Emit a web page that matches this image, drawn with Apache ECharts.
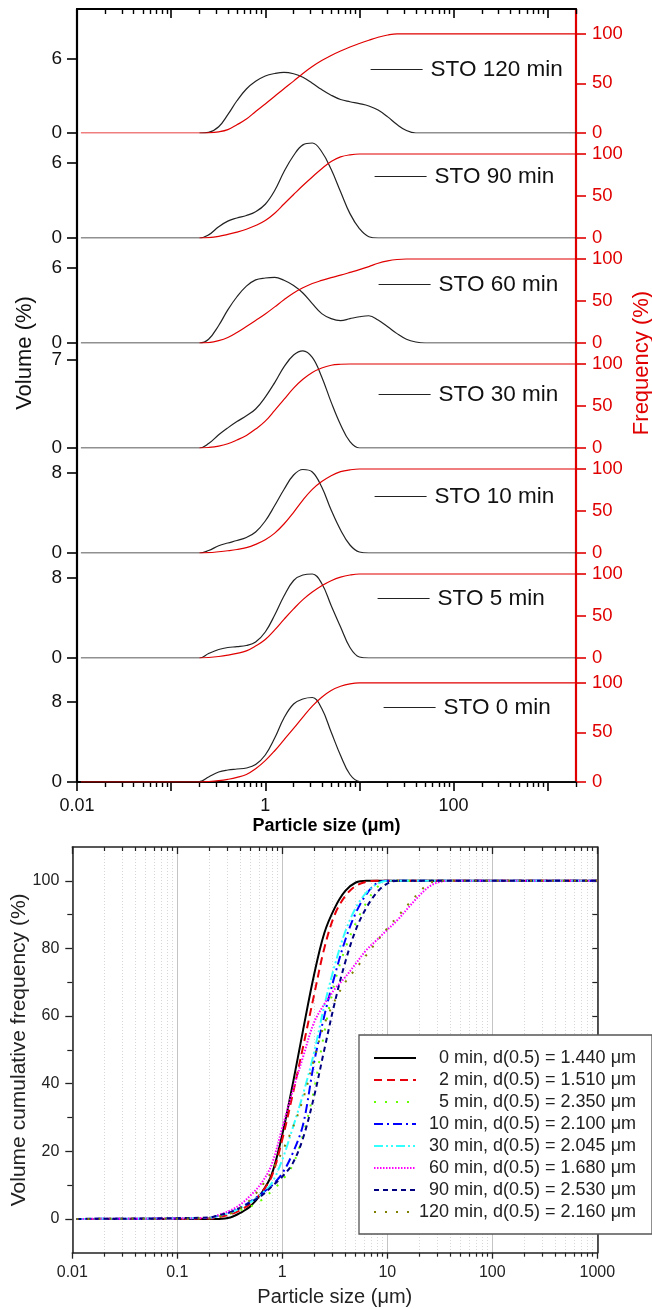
<!DOCTYPE html>
<html>
<head>
<meta charset="utf-8">
<script src="https://cdn.jsdelivr.net/npm/echarts@6/dist/echarts.min.js"></script>
<style>
  html, body { margin: 0; padding: 0; background: #fff; }
  #chart { width: 652px; height: 1309px; }
</style>
</head>
<body>
<div id="chart"></div>
<script>
// particle size distributions of STO, milled for various times
const FONT = "'Liberation Sans', Arial, sans-serif";
const RED = "#e00000";

// ---- top: volume (%) and frequency (%) per milling time ----
const panelNames = ["STO 120 min", "STO 90 min", "STO 60 min", "STO 30 min", "STO 10 min", "STO 5 min", "STO 0 min"];
const sizeTop = [0.011, 0.2, 0.25, 0.32, 0.4, 0.5, 0.63, 0.79, 1, 1.26, 1.58, 2, 2.51, 3.16, 3.98, 5.01, 6.31, 7.94, 10, 12.6, 15.8, 20, 25.1, 31.6, 39.8, 50.1, 2000];

const vol120 = [null, 0, 0.05, 0.5, 1.48, 2.6, 3.55, 4.17, 4.6, 4.8, 4.89, 4.78, 4.5, 4.02, 3.5, 3.05, 2.7, 2.52, 2.37, 2.18, 1.85, 1.3, 0.68, 0.2, 0, 0, 0];
const freq120 = [0, 0, 0.2, 1.2, 3.4, 8.3, 14, 21.7, 29.3, 37, 44.6, 52.3, 60, 67, 73, 78.2, 82.7, 86.7, 90.2, 93.5, 96.5, 98.8, 100, 100, 100, 100, 100];
const vol90 = [0, 0, 0.25, 0.9, 1.35, 1.6, 1.8, 2.1, 2.7, 3.8, 5.3, 6.6, 7.45, 7.6, 6.9, 5.5, 3.7, 1.95, 0.75, 0.1, 0, 0, 0, 0, 0, 0, 0];
const freq90 = [null, 0, 0.5, 2, 4.3, 7, 10.4, 14.8, 20.8, 29.5, 40.5, 51.8, 62.5, 72.7, 82.5, 91, 96.5, 99, 100, 100, 100, 100, 100, 100, 100, 100, 100];
const vol60 = [0, 0, 0.3, 1.4, 2.65, 3.7, 4.55, 5.05, 5.2, 5.25, 5.02, 4.6, 4.0, 3.15, 2.35, 1.95, 1.79, 1.95, 2.1, 2.18, 1.84, 1.3, 0.75, 0.3, 0.08, 0, 0];
const freq60 = [null, 0, 0.5, 2.8, 6.5, 12.5, 19.6, 26.8, 34.5, 43, 51.5, 59.5, 65.7, 70.8, 74.5, 77.8, 80.8, 84, 87.3, 91, 95, 97.8, 99.4, 100, 100, 100, 100];
const vol30 = [0, 0, 0.35, 1.05, 1.6, 2.1, 2.56, 3.1, 4.05, 5.2, 6.45, 7.4, 7.73, 7.2, 5.65, 3.65, 1.85, 0.5, 0, 0, 0, 0, 0, 0, 0, 0, 0];
const freq30 = [null, 0, 0.6, 2.2, 5, 9.5, 15, 22.5, 32, 44.8, 57.8, 71.3, 81.8, 90, 95.3, 98.5, 99.7, 100, 100, 100, 100, 100, 100, 100, 100, 100, 100];
const vol10 = [0, 0, 0.25, 0.72, 1.0, 1.25, 1.55, 2.1, 3.2, 4.75, 6.35, 7.8, 8.35, 8.1, 6.6, 4.3, 2.3, 0.8, 0.1, 0, 0, 0, 0, 0, 0, 0, 0];
const freq10 = [null, 0, 0.4, 1.5, 2.7, 4.2, 6.4, 10.3, 15.8, 23.7, 34.5, 48.5, 63, 75.8, 85, 92, 96.8, 99, 100, 100, 100, 100, 100, 100, 100, 100, 100];
const vol5 = [0, 0, 0.45, 0.85, 1.05, 1.13, 1.25, 1.6, 2.6, 4.3, 6.2, 7.75, 8.3, 8.4, 7.45, 5.25, 3.1, 1.05, 0.1, 0, 0, 0, 0, 0, 0, 0, 0];
const freq5 = [null, 0, 0.6, 1.8, 3.4, 5.5, 8.5, 14.3, 22, 33.5, 46, 58.5, 69.5, 78.5, 86, 92, 96.3, 98.8, 100, 100, 100, 100, 100, 100, 100, 100, 100];
const vol0 = [0, 0.05, 0.5, 1.0, 1.2, 1.3, 1.4, 1.75, 2.7, 4.4, 6.4, 7.8, 8.3, 8.45, 7.35, 5.0, 2.65, 0.75, 0.05, 0, 0, 0, 0, 0, 0, 0, 0];
const freq0 = [0, 0, 0.5, 1.4, 2.7, 4.6, 7.6, 13.3, 21.5, 31.5, 42.5, 54, 65.5, 76.5, 85.5, 92.3, 96.5, 99, 100, 100, 100, 100, 100, 100, 100, 100, 100];

const volumes = [vol120, vol90, vol60, vol30, vol10, vol5, vol0];
const freqs = [freq120, freq90, freq60, freq30, freq10, freq5, freq0];
const volTickTop = [6, 6, 6, 7, 8, 8, 8];
const freqTicks = [0, 50, 100];
const majorTicks = [0.01, 0.1, 1, 10, 100, 1000];
const topLabels = [0.01, 1, 100];
const minorMult = [2, 3, 4, 5, 6, 7, 8, 9];

// panel layout (px)
const panelTop = [9, 133, 238, 343, 448, 553, 658];
const panelBottom = [133, 238, 343, 448, 553, 658, 782];
const volMax = [10, 8.4, 8.4, 8.35, 10.5, 10.5, 12.4];
const legendPos = [[370, 70], [374, 177], [378, 285], [378, 395], [374, 497], [377, 599], [383, 708]];

// ---- bottom: cumulative volume ----
const sizeBottom = [0.011, 0.2, 0.25, 0.32, 0.4, 0.5, 0.63, 0.79, 1, 1.26, 1.58, 2, 2.51, 3.16, 3.98, 5.01, 6.31, 7.94, 10, 12.6, 15.8, 20, 25.1, 31.6, 39.8, 1000];
const cum0 = [0, 0, 0, 0.4, 1.8, 3.8, 7.5, 13, 25, 40, 56, 72, 84.5, 92, 97, 99.5, 100, 100, 100, 100, 100, 100, 100, 100, 100, 100];
const cum2 = [0, 0.1, 0.5, 1.3, 2.6, 4.6, 7.7, 12.5, 23.5, 37, 51, 66, 80, 90, 95.5, 98.5, 99.7, 100, 100, 100, 100, 100, 100, 100, 100, 100];
const cum5 = [0, 0.2, 0.8, 1.6, 2.6, 3.7, 5.5, 8.2, 11.5, 16, 25, 38, 55, 70, 80, 87.5, 93.5, 98, 100, 100, 100, 100, 100, 100, 100, 100];
const cum10 = [0, 0.3, 1.0, 2.0, 3.4, 5.2, 7.4, 9.8, 13.5, 19.5, 28, 46, 60, 72, 82.5, 90.5, 96, 99.3, 100, 100, 100, 100, 100, 100, 100, 100];
const cum30 = [0, 0.3, 0.9, 1.8, 3.3, 5, 7.3, 10.5, 17.5, 27, 37, 49, 63, 75, 85, 92, 96.5, 99, 100, 100, 100, 100, 100, 100, 100, 100];
const cum60 = [0, 0.3, 1.2, 2.5, 4.3, 7, 10.5, 16, 27, 38, 48, 58, 63.5, 68, 71.5, 75.5, 79.5, 82.5, 85.5, 88.5, 92, 95.5, 98.3, 99.7, 100, 100];
const cum90 = [0, 0.4, 1.1, 2.0, 3.3, 4.9, 6.8, 9.5, 12.5, 16.5, 24, 36, 50, 64, 76, 85.5, 92, 96.5, 99.2, 100, 100, 100, 100, 100, 100, 100];
const cum120 = [0, 0.2, 0.7, 1.6, 3.2, 5.8, 9.5, 14, 20, 27, 35.5, 47, 57.5, 64.5, 70, 74, 78, 82, 86, 89.5, 93, 96.5, 99.3, 100, 100, 100];

const cumSeries = [cum0, cum2, cum5, cum10, cum30, cum60, cum90, cum120];
const legendNames = [
  "0 min, d(0.5) = 1.440 μm",
  "2 min, d(0.5) = 1.510 μm",
  "5 min, d(0.5) = 2.350 μm",
  "10 min, d(0.5) = 2.100 μm",
  "30 min, d(0.5) = 2.045 μm",
  "60 min, d(0.5) = 1.680 μm",
  "90 min, d(0.5) = 2.530 μm",
  "120 min, d(0.5) = 2.160 μm"
];
const cumColors = ["#000000", "#e8000b", "#66ff00", "#0000ff", "#33ffff", "#ff00ff", "#000080", "#808000"];
const cumDash = ["solid", [8, 5], [2, 9], [9, 4, 2, 4], [9, 3, 2, 3, 2, 3], [1.5, 1.5], [5, 4], [2, 9]];
const yTicksBottom = [0, 20, 40, 60, 80, 100];
const yMinorBottom = [10, 30, 50, 70, 90];
const yRightBottom = [0, 10, 20, 30, 40, 50, 60, 70, 80, 90, 100];

function minorList(hi) {
  const out = [];
  for (let e = -2; e <= 3; e++) {
    minorMult.forEach(function (m) {
      const v = +(m * Math.pow(10, e)).toPrecision(6);
      if (v <= hi) out.push(v);
    });
  }
  return out;
}

function plainNum(v) { return String(+v.toPrecision(6)); }

function hiddenLog(gridIndex, max, position) {
  return {
    type: "log", logBase: 10, gridIndex: gridIndex, min: 0.01, max: max,
    position: position || "bottom",
    axisLine: { show: false, onZero: false },
    axisTick: { show: false },
    axisLabel: { show: false },
    splitLine: { show: false },
    minorTick: { show: false }
  };
}

const grid = [];
panelTop.forEach(function (t, i) {
  grid.push({ left: 77, width: 499, top: t, height: panelBottom[i] - t, outerBoundsMode: "none" });
});
grid.push({ left: 72.3, width: 525, top: 847, height: 405.7, outerBoundsMode: "none" });

const xAxis = [];
panelTop.forEach(function (t, i) { xAxis.push(hiddenLog(i, 2000)); });
// bottom axis of the stacked panels
Object.assign(xAxis[6], {
  axisLine: { show: true, onZero: false, lineStyle: { color: "#000", width: 2.2 } },
  axisTick: { show: true, customValues: majorTicks, length: 9, lineStyle: { color: "#000", width: 1.6 } },
  axisLabel: { show: true, customValues: topLabels, formatter: plainNum, fontSize: 18, fontFamily: FONT, color: "#111", margin: 15 },
  name: "Particle size (μm)", nameLocation: "middle", nameGap: 35, nameMoveOverlap: false,
  nameTextStyle: { fontSize: 18, fontWeight: "bold", fontFamily: FONT, color: "#000" }
});
// 7: minor ticks under panel 7
const xm7 = hiddenLog(6, 2000);
xm7.axisTick = { show: true, customValues: minorList(2000), length: 5, lineStyle: { color: "#000", width: 1.4 } };
xAxis.push(xm7);
// 8, 9: top frame of panel 1
const xt1 = hiddenLog(0, 2000, "top");
xt1.axisLine = { show: true, onZero: false, lineStyle: { color: "#000", width: 2.2 } };
xt1.axisTick = { show: true, inside: true, customValues: majorTicks, length: 9, lineStyle: { color: "#000", width: 1.6 } };
xAxis.push(xt1);
const xt1m = hiddenLog(0, 2000, "top");
xt1m.axisTick = { show: true, inside: true, customValues: minorList(2000), length: 5, lineStyle: { color: "#000", width: 1.4 } };
xAxis.push(xt1m);
// 10..13: cumulative chart
const xb = hiddenLog(7, 1000);
xb.axisLine = { show: true, onZero: false, lineStyle: { color: "#222", width: 1.5 } };
xb.axisTick = { show: true, customValues: majorTicks, length: 6, lineStyle: { color: "#222", width: 1.3 } };
xb.axisLabel = { show: true, customValues: majorTicks, formatter: plainNum, fontSize: 16, fontFamily: FONT, color: "#222", margin: 12 };
xb.splitLine = { show: true, lineStyle: { color: "#c4c4c4", width: 1 } };
xb.name = "Particle size (μm)";
xb.nameLocation = "middle";
xb.nameGap = 35;
xb.nameMoveOverlap = false;
xb.nameTextStyle = { fontSize: 20, fontFamily: FONT, color: "#222" };
xAxis.push(xb);
const xbm = hiddenLog(7, 1000);
xbm.axisTick = { show: true, customValues: minorList(1000), length: 4, lineStyle: { color: "#222", width: 1.2 } };
xbm.splitLine = { show: true, lineStyle: { color: "#d6d6d6", width: 1, type: [1, 2] } };
xAxis.push(xbm);
const xbt = hiddenLog(7, 1000, "top");
xbt.axisLine = { show: true, onZero: false, lineStyle: { color: "#222", width: 1.5 } };
xbt.axisTick = { show: true, inside: true, customValues: majorTicks, length: 7, lineStyle: { color: "#222", width: 1.3 } };
xAxis.push(xbt);
const xbtm = hiddenLog(7, 1000, "top");
xbtm.axisTick = { show: true, inside: true, customValues: minorList(1000), length: 4, lineStyle: { color: "#222", width: 1.2 } };
xAxis.push(xbtm);

const yAxis = [];
panelTop.forEach(function (t, i) {
  yAxis.push({
    type: "value", gridIndex: i, min: 0, max: volMax[i], position: "left",
    axisLine: { show: true, onZero: false, lineStyle: { color: "#000", width: 2.2 } },
    axisTick: { show: true, customValues: [0, volTickTop[i]], length: 10, lineStyle: { color: "#000", width: 1.6 } },
    axisLabel: { customValues: [0, volTickTop[i]], fontSize: 19, fontFamily: FONT, color: "#111", margin: 15 },
    splitLine: { show: false }
  });
  yAxis.push({
    type: "value", gridIndex: i, min: 0, max: 125, position: "right",
    axisLine: { show: true, onZero: false, lineStyle: { color: RED, width: 2.2 } },
    axisTick: { show: true, customValues: freqTicks, length: 10, lineStyle: { color: RED, width: 1.6 } },
    axisLabel: { customValues: freqTicks, fontSize: 18.5, fontFamily: FONT, color: RED, margin: 16 },
    splitLine: { show: false }
  });
});
// 14..16: cumulative chart
yAxis.push({
  type: "value", gridIndex: 7, min: -10, max: 110, position: "left",
  axisLine: { show: true, onZero: false, lineStyle: { color: "#222", width: 1.5 } },
  axisTick: { show: true, customValues: yTicksBottom, length: 7, lineStyle: { color: "#222", width: 1.3 } },
  axisLabel: { customValues: yTicksBottom, fontSize: 16, fontFamily: FONT, color: "#222", margin: 13 },
  splitLine: { show: false },
  name: "Volume cumulative frequency (%)", nameLocation: "middle", nameGap: 43, nameMoveOverlap: false,
  nameTextStyle: { fontSize: 21, fontFamily: FONT, color: "#222" }
});
yAxis.push({
  type: "value", gridIndex: 7, min: -10, max: 110, position: "left",
  axisLine: { show: false, onZero: false },
  axisTick: { show: true, customValues: yMinorBottom, length: 5, lineStyle: { color: "#222", width: 1.2 } },
  axisLabel: { show: false },
  splitLine: { show: false }
});
yAxis.push({
  type: "value", gridIndex: 7, min: -10, max: 110, position: "right",
  axisLine: { show: true, onZero: false, lineStyle: { color: "#222", width: 1.5 } },
  axisTick: { show: true, inside: true, customValues: yRightBottom, length: 5, lineStyle: { color: "#222", width: 1.2 } },
  axisLabel: { show: false },
  splitLine: { show: false }
});

const series = [];
panelNames.forEach(function (name, i) {
  series.push({
    name: name, type: "line", xAxisIndex: i, yAxisIndex: 2 * i,
    data: sizeTop.map(function (x, k) { return [x, volumes[i][k]]; }),
    symbol: "none", smooth: 0.4, z: 3,
    itemStyle: { color: "#222" },
    lineStyle: { color: "#222", width: 1.2 }
  });
  series.push({
    name: "Frequency " + name, type: "line", xAxisIndex: i, yAxisIndex: 2 * i + 1,
    data: sizeTop.map(function (x, k) { return [x, freqs[i][k]]; }),
    symbol: "none", smooth: 0.4, z: 4,
    itemStyle: { color: RED },
    lineStyle: { color: RED, width: 1.2 }
  });
});
legendNames.forEach(function (name, i) {
  series.push({
    name: name, type: "line", xAxisIndex: 10, yAxisIndex: 14,
    data: sizeBottom.map(function (x, k) { return [x, cumSeries[i][k]]; }),
    symbol: "none", smooth: 0.35,
    itemStyle: { color: cumColors[i] },
    lineStyle: { color: cumColors[i], width: 2, type: cumDash[i], cap: "butt" }
  });
});

const legend = panelNames.map(function (name, i) {
  return {
    data: [name], left: legendPos[i][0], top: legendPos[i][1] - 12, padding: 0,
    itemWidth: 52, itemHeight: 14, selectedMode: false,
    itemStyle: { opacity: 0 }, lineStyle: { width: 1.2 },
    textStyle: { fontSize: 22.5, fontFamily: FONT, color: "#111", padding: [0, 0, 0, 3] }
  };
});
legend.push({
  data: legendNames, orient: "vertical", left: 359, top: 1035,
  padding: [14, 16, 13, 14], itemGap: 4, itemWidth: 42, itemHeight: 14,
  selectedMode: false, backgroundColor: "#fff", borderColor: "#555", borderWidth: 1.3, borderRadius: 0,
  itemStyle: { opacity: 0 }, lineStyle: { width: 2 },
  formatter: function (n) { return "{t|" + n + "}"; },
  textStyle: {
    fontSize: 18, fontFamily: FONT, color: "#222",
    rich: { t: { width: 215, align: "right", fontSize: 18, fontFamily: FONT, color: "#222" } }
  }
});

const chart = echarts.init(document.getElementById("chart"), null, { renderer: "canvas" });
chart.setOption({
  animation: false,
  backgroundColor: "#fff",
  grid: grid,
  xAxis: xAxis,
  yAxis: yAxis,
  legend: legend,
  series: series,
  graphic: [
    {
      type: "text", x: 25, y: 353, rotation: Math.PI / 2,
      style: { text: "Volume (%)", fontSize: 22, fontFamily: FONT, fill: "#111", align: "center", verticalAlign: "middle" }
    },
    {
      type: "text", x: 642, y: 363, rotation: Math.PI / 2,
      style: { text: "Frequency (%)", fontSize: 22, fontFamily: FONT, fill: RED, align: "center", verticalAlign: "middle" }
    }
  ]
});
</script>
</body>
</html>
